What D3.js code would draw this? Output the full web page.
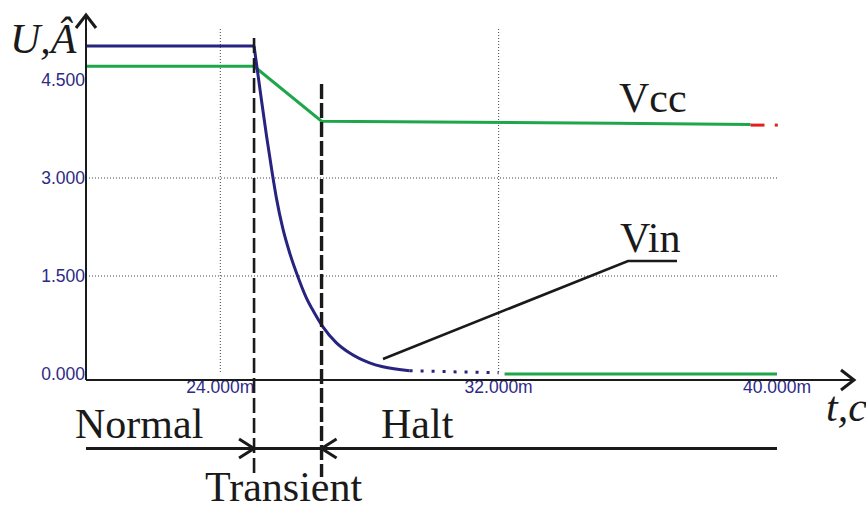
<!DOCTYPE html>
<html>
<head>
<meta charset="utf-8">
<script src="https://cdn.jsdelivr.net/npm/d3@7"></script>
<style>
  body { margin: 0; background: #fff; }
  svg { display: block; }
</style>
</head>
<body>
<svg id="chart" width="866" height="509"></svg>
<script>
// time in ms, voltage in V
const vinHoldTime = [20.14, 24.97];
const vinHoldValue = [5.02, 5.02];
const vinDecayTime = [24.97, 25.15, 25.33, 25.5, 25.61, 25.8, 25.99, 26.23, 26.47, 26.71, 26.95, 27.33, 27.72, 28.29, 28.67, 29.44];
const vinDecayValue = [5.02, 4.32, 3.64, 3.05, 2.7, 2.22, 1.86, 1.49, 1.17, 0.93, 0.72, 0.48, 0.32, 0.17, 0.11, 0.05];
const vinTailTime = [29.44, 30.2, 31.0, 32.0];
const vinTailValue = [0.05, 0.04, 0.03, 0.02];
const vinZeroTime = [32.17, 40.0];
const vinZeroValue = [0.0, 0.0];

const vccTime = [20.14, 24.97, 26.91, 35.33, 39.24];
const vccValue = [4.71, 4.71, 3.87, 3.84, 3.82];
const vccEndTime = [39.24, 39.64];
const vccEndValue = [3.81, 3.81];
const vccDotTime = [39.98];
const vccDotValue = [3.81];

const yTicks = [0, 1.5, 3, 4.5];
const yTickLabels = ["0.000", "1.500", "3.000", "4.500"];
const yGrid = [1.5, 3];
const xTicks = [24, 32, 40];
const xTickLabels = ["24.000m", "32.000m", "40.000m"];
const xGrid = [24, 32];
const phaseBounds = [24.97, 26.91];

const svg = d3.select("#chart");
const x = d3.scaleLinear().domain([20.14, 40]).range([86, 777]);
const y = d3.scaleLinear().domain([0, 5.5]).range([374, 14.7]);

const zip = (a, b) => a.map((t, i) => [t, b[i]]);
const line = d3.line().x(d => x(d[0])).y(d => y(d[1]));
const smooth = d3.line().x(d => x(d[0])).y(d => y(d[1])).curve(d3.curveMonotoneX);

const blue = "#27237f";
const green = "#1fa64a";
const ink = "#1a1a1a";
const serif = "'Liberation Serif', 'Times New Roman', serif";

// grid
svg.append("g").selectAll("line").data(yGrid).join("line")
  .attr("x1", x(20.14)).attr("x2", x(40))
  .attr("y1", d => y(d)).attr("y2", d => y(d))
  .attr("stroke", "#444").attr("stroke-width", 1).attr("stroke-dasharray", "1,2");
svg.append("g").selectAll("line").data(xGrid).join("line")
  .attr("x1", d => x(d)).attr("x2", d => x(d))
  .attr("y1", 29).attr("y2", y(0))
  .attr("stroke", "#444").attr("stroke-width", 1).attr("stroke-dasharray", "1,2");

// tick labels
svg.append("g").selectAll("text").data(yTicks).join("text")
  .attr("x", 85).attr("y", d => y(d)).attr("dy", "0.36em")
  .attr("text-anchor", "end")
  .attr("font-family", "'Liberation Sans', Arial, sans-serif").attr("font-size", 17.5)
  .attr("fill", "#2e2a86")
  .text((d, i) => yTickLabels[i]);
svg.append("g").selectAll("text").data(xTicks).join("text")
  .attr("x", d => x(d)).attr("y", 393)
  .attr("text-anchor", "middle")
  .attr("font-family", "'Liberation Sans', Arial, sans-serif").attr("font-size", 17.5)
  .attr("fill", "#2e2a86")
  .text((d, i) => xTickLabels[i]);

// series
svg.append("path").attr("d", line(zip(vccTime, vccValue)))
  .attr("fill", "none").attr("stroke", green).attr("stroke-width", 3);
svg.append("path").attr("d", line(zip(vccEndTime, vccEndValue)))
  .attr("fill", "none").attr("stroke", "#e0201e").attr("stroke-width", 3);
svg.selectAll(".vccdot").data(zip(vccDotTime, vccDotValue)).join("rect")
  .attr("class", "vccdot")
  .attr("x", d => x(d[0]) - 1.5).attr("y", d => y(d[1]) - 1.5)
  .attr("width", 3).attr("height", 3).attr("fill", "#e0201e");

svg.append("path").attr("d", line(zip(vinHoldTime, vinHoldValue)))
  .attr("fill", "none").attr("stroke", blue).attr("stroke-width", 3);
svg.append("path").attr("d", smooth(zip(vinDecayTime, vinDecayValue)))
  .attr("fill", "none").attr("stroke", blue).attr("stroke-width", 3);
svg.append("path").attr("d", smooth(zip(vinTailTime, vinTailValue)))
  .attr("fill", "none").attr("stroke", blue).attr("stroke-width", 3)
  .attr("stroke-dasharray", "3,8");
svg.append("path").attr("d", line(zip(vinZeroTime, vinZeroValue)))
  .attr("fill", "none").attr("stroke", green).attr("stroke-width", 3);

// axes with arrows
svg.append("line").attr("x1", 86).attr("x2", 86).attr("y1", 380).attr("y2", 15)
  .attr("stroke", ink).attr("stroke-width", 2);
svg.append("polyline").attr("points", "76,28 86,15 96,28")
  .attr("fill", "none").attr("stroke", ink).attr("stroke-width", 3);
svg.append("line").attr("x1", 86).attr("x2", 854).attr("y1", 380).attr("y2", 380)
  .attr("stroke", ink).attr("stroke-width", 2);
svg.append("polyline").attr("points", "841,370 854,380 841,390")
  .attr("fill", "none").attr("stroke", ink).attr("stroke-width", 3);

// phase boundaries
svg.append("line").attr("x1", x(phaseBounds[0])).attr("x2", x(phaseBounds[0]))
  .attr("y1", 38).attr("y2", 477)
  .attr("stroke", ink).attr("stroke-width", 2.6).attr("stroke-dasharray", "15,5");
svg.append("line").attr("x1", x(phaseBounds[1])).attr("x2", x(phaseBounds[1]))
  .attr("y1", 84).attr("y2", 477)
  .attr("stroke", ink).attr("stroke-width", 3.4).attr("stroke-dasharray", "15,4");

// phase bar
const bx0 = x(phaseBounds[0]), bx1 = x(phaseBounds[1]);
svg.append("line").attr("x1", 86).attr("x2", 777).attr("y1", 448.5).attr("y2", 448.5)
  .attr("stroke", ink).attr("stroke-width", 3.2);
svg.append("polyline").attr("points", `${bx0 - 15},439 ${bx0},448.5 ${bx0 - 15},458`)
  .attr("fill", "none").attr("stroke", ink).attr("stroke-width", 3);
svg.append("polyline").attr("points", `${bx1 + 15},439 ${bx1},448.5 ${bx1 + 15},458`)
  .attr("fill", "none").attr("stroke", ink).attr("stroke-width", 3);

// leader for Vin
svg.append("polyline").attr("points", "383,359 628,261 677,261")
  .attr("fill", "none").attr("stroke", ink).attr("stroke-width", 2.6);

// labels
const label = (tx, ty, s, italic) => svg.append("text")
  .attr("x", tx).attr("y", ty)
  .attr("font-family", serif).attr("font-size", 42)
  .attr("font-style", italic ? "italic" : "normal")
  .attr("fill", ink).text(s);
label(10, 53, "U,Â", true);
label(826, 421, "t,c", true);
label(75, 438, "Normal");
label(381, 438, "Halt");
label(205, 501, "Transient");
label(619, 112, "Vcc");
label(620, 252, "Vin");
</script>
</body>
</html>
